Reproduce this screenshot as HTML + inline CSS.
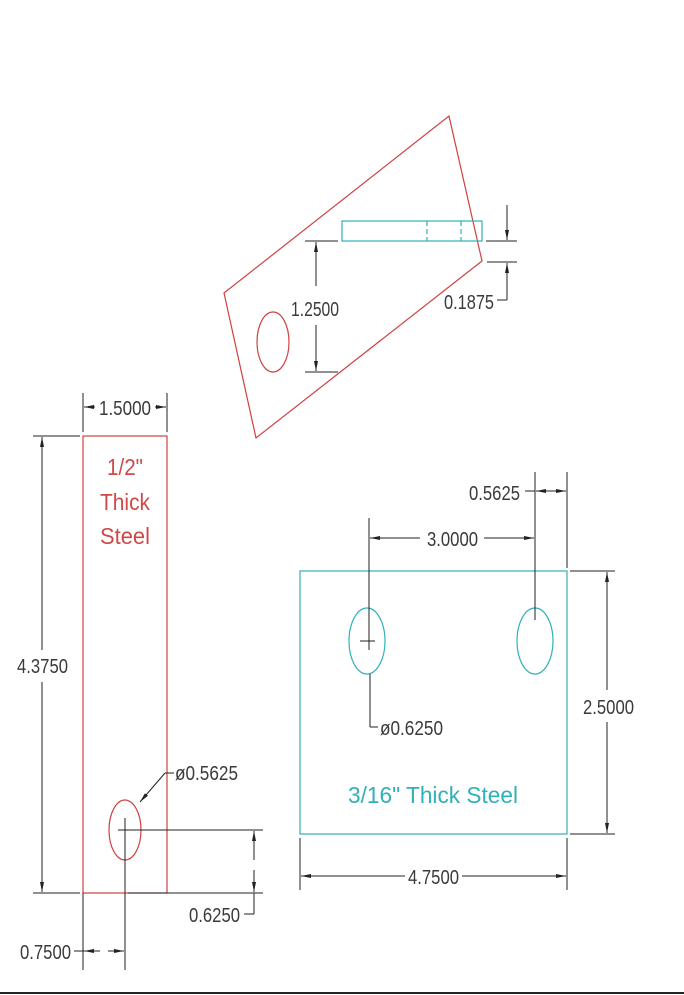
<!DOCTYPE html>
<html><head><meta charset="utf-8"><style>
html,body{margin:0;padding:0;background:#fff;}
svg{display:block}
text{font-family:"Liberation Sans",sans-serif;font-size:20px;fill:#3a3a3a;}
</style></head><body>
<svg width="684" height="995" viewBox="0 0 684 995" xmlns="http://www.w3.org/2000/svg">
<defs>
<marker id="a" viewBox="0 0 10 4" refX="10" refY="2" markerWidth="10" markerHeight="4" orient="auto-start-reverse" markerUnits="userSpaceOnUse"><path d="M0,0 L10,2 L0,4 z" fill="#222"/></marker>
</defs>
<g fill="none" stroke-width="1.2">
<polygon points="224,293 449,116 482,261 256,438" stroke="#d04040"/>
<ellipse cx="273" cy="342" rx="16" ry="30" stroke="#d04040"/>
<rect x="342" y="221" width="140" height="20" stroke="#30b0b8"/>
<line x1="427" y1="221" x2="427" y2="241" stroke="#30b0b8" stroke-dasharray="5,3"/>
<line x1="461" y1="221" x2="461" y2="241" stroke="#30b0b8" stroke-dasharray="5,3"/>
<rect x="83" y="436" width="84" height="457" stroke="#d04040"/>
<ellipse cx="125" cy="830" rx="16" ry="30" stroke="#d04040"/>
<rect x="300" y="571" width="267" height="263" stroke="#30b0b8"/>
<ellipse cx="367" cy="641" rx="18" ry="33" stroke="#30b0b8"/>
<ellipse cx="535" cy="641" rx="18" ry="33" stroke="#30b0b8"/>
</g>
<g stroke="#222" stroke-width="1" fill="none">
<line x1="305" y1="241" x2="338" y2="241"/><line x1="305" y1="372" x2="338" y2="372"/>
<line x1="316" y1="286" x2="316" y2="242" marker-end="url(#a)"/>
<line x1="316" y1="325" x2="316" y2="371" marker-end="url(#a)"/>
<line x1="486" y1="241" x2="517" y2="241"/><line x1="487" y1="262" x2="517" y2="262"/>
<line x1="507" y1="205" x2="507" y2="240" marker-end="url(#a)"/>
<line x1="507" y1="300" x2="507" y2="263" marker-end="url(#a)"/>
<line x1="497" y1="300" x2="507" y2="300"/>
<line x1="83" y1="393" x2="83" y2="432"/><line x1="167" y1="393" x2="167" y2="432"/>
<line x1="95" y1="407" x2="84" y2="407" marker-end="url(#a)"/>
<line x1="155" y1="407" x2="166" y2="407" marker-end="url(#a)"/>
<line x1="33" y1="436" x2="80" y2="436"/><line x1="33" y1="893" x2="80" y2="893"/>
<line x1="42" y1="650" x2="42" y2="437" marker-end="url(#a)"/>
<line x1="42" y1="682" x2="42" y2="892" marker-end="url(#a)"/>
<line x1="118" y1="830" x2="263" y2="830"/>
<line x1="125" y1="818" x2="125" y2="970"/>
<line x1="128" y1="893" x2="263" y2="893"/>
<line x1="83" y1="893" x2="83" y2="970"/>
<line x1="254" y1="860" x2="254" y2="831" marker-end="url(#a)"/>
<line x1="254" y1="870" x2="254" y2="892" marker-end="url(#a)"/>
<line x1="254" y1="893" x2="254" y2="914"/><line x1="244" y1="914" x2="254" y2="914"/>
<line x1="74" y1="951" x2="84" y2="951"/>
<line x1="100" y1="951" x2="84" y2="951" marker-end="url(#a)"/>
<line x1="108" y1="951" x2="124" y2="951" marker-end="url(#a)"/>
<line x1="174" y1="773" x2="165" y2="773"/>
<line x1="165" y1="773" x2="140" y2="802" marker-end="url(#a)"/>
<line x1="360" y1="641" x2="375" y2="641"/>
<line x1="369" y1="518" x2="369" y2="650"/>
<line x1="535" y1="472" x2="535" y2="620"/>
<line x1="420" y1="538" x2="370" y2="538" marker-end="url(#a)"/>
<line x1="484" y1="538" x2="534" y2="538" marker-end="url(#a)"/>
<line x1="567" y1="472" x2="567" y2="568"/>
<line x1="525" y1="491" x2="535" y2="491"/>
<line x1="551" y1="491" x2="536" y2="491" marker-end="url(#a)"/>
<line x1="551" y1="491" x2="566" y2="491" marker-end="url(#a)"/>
<line x1="570" y1="571" x2="615" y2="571"/><line x1="570" y1="834" x2="615" y2="834"/>
<line x1="607" y1="690" x2="607" y2="572" marker-end="url(#a)"/>
<line x1="607" y1="722" x2="607" y2="833" marker-end="url(#a)"/>
<line x1="300" y1="838" x2="300" y2="890"/><line x1="567" y1="838" x2="567" y2="890"/>
<line x1="405" y1="876" x2="301" y2="876" marker-end="url(#a)"/>
<line x1="462" y1="876" x2="566" y2="876" marker-end="url(#a)"/>
<line x1="370" y1="674" x2="370" y2="727"/>
<line x1="370" y1="727" x2="378" y2="727"/>
<line x1="0" y1="993" x2="684" y2="993" stroke-width="2"/>
</g>
<g>
<text x="291" y="316" textLength="48" lengthAdjust="spacingAndGlyphs">1.2500</text>
<text x="444" y="309" textLength="50" lengthAdjust="spacingAndGlyphs">0.1875</text>
<text x="99" y="415" textLength="52" lengthAdjust="spacingAndGlyphs">1.5000</text>
<text x="17" y="673" textLength="51" lengthAdjust="spacingAndGlyphs">4.3750</text>
<text x="175" y="780" textLength="63" lengthAdjust="spacingAndGlyphs">ø0.5625</text>
<text x="189" y="922" textLength="51" lengthAdjust="spacingAndGlyphs">0.6250</text>
<text x="20" y="959" textLength="51" lengthAdjust="spacingAndGlyphs">0.7500</text>
<text x="469" y="500" textLength="51" lengthAdjust="spacingAndGlyphs">0.5625</text>
<text x="427" y="546" textLength="51" lengthAdjust="spacingAndGlyphs">3.0000</text>
<text x="583" y="714" textLength="51" lengthAdjust="spacingAndGlyphs">2.5000</text>
<text x="408" y="884" textLength="51" lengthAdjust="spacingAndGlyphs">4.7500</text>
<text x="380" y="735" textLength="63" lengthAdjust="spacingAndGlyphs">ø0.6250</text>
<text x="107" y="475" textLength="36" lengthAdjust="spacingAndGlyphs" style="fill:#d04848;font-size:23px">1/2"</text>
<text x="100" y="510" textLength="50" lengthAdjust="spacingAndGlyphs" style="fill:#d04848;font-size:23px">Thick</text>
<text x="100" y="544" textLength="50" lengthAdjust="spacingAndGlyphs" style="fill:#d04848;font-size:23px">Steel</text>
<text x="348" y="803" textLength="170" lengthAdjust="spacingAndGlyphs" style="fill:#30b0b8;font-size:23px">3/16" Thick Steel</text>
</g>
</svg>
</body></html>
